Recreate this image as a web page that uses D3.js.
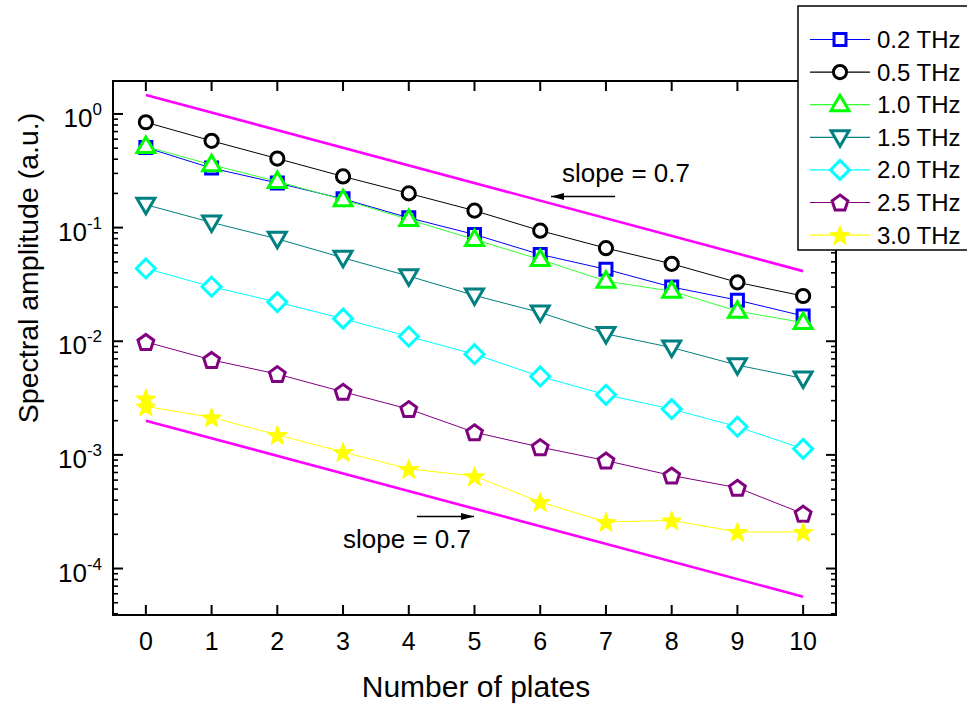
<!DOCTYPE html>
<html><head><meta charset="utf-8">
<script src="https://cdn.jsdelivr.net/npm/d3@7"></script>
<style>body{margin:0;background:#fff} text{font-family:Arial,"Liberation Sans",sans-serif;fill:#000}</style>
</head><body><svg id="c" width="967" height="709"></svg>
<script>
// ---- data ----
const plates = [0,1,2,3,4,5,6,7,8,9,10];
const seriesNames = ["0.2 THz","0.5 THz","1.0 THz","1.5 THz","2.0 THz","2.5 THz","3.0 THz"];
const amp02 = [0.506,0.334,0.247,0.179,0.122,0.087,0.058,0.043,0.030,0.023,0.0167];
const amp05 = [0.845,0.58,0.405,0.282,0.20,0.141,0.094,0.066,0.048,0.033,0.025];
const amp10 = [0.517,0.357,0.255,0.176,0.118,0.0785,0.0524,0.0338,0.0276,0.0184,0.0146];
const amp15 = [0.159,0.111,0.0796,0.0542,0.0374,0.0253,0.0179,0.0116,0.0088,0.00616,0.00471];
const amp20 = [0.0437,0.0302,0.0221,0.0158,0.0110,0.00769,0.0049,0.00338,0.00253,0.00177,0.00113];
const amp25 = [0.00986,0.00685,0.00514,0.00359,0.00253,0.00158,0.00117,0.000891,0.000658,0.000514,0.000304];
const amp30 = [0.00267,0.00214,0.00150,0.00106,0.000753,0.000650,0.000385,0.000257,0.000265,0.000210,0.000210];
const amp30ExtraX = [0];
const amp30ExtraY = [0.00314];
const slopeX = [0,10];
const upperSlope = [1.47,0.0414];
const lowerSlope = [0.002,5.65e-5];
const yTickVals = [1e-4,1e-3,1e-2,1e-1,1];
const yTickExps = ["-4","-3","-2","-1","0"];
const xTickVals = [0,1,2,3,4,5,6,7,8,9,10];
const slopeLabel = "slope = 0.7";

// ---- styles ----
const colors = ["#0000ff","#000000","#00ff00","#008080","#00ffff","#800080","#ffff00"];
const lineColors = ["#0000ff","#000000","#33ff33","#008080","#00ffff","#800080","#ffff00"];
const shapes = ["square","circle","triUp","triDown","diamond","pentagon","star"];
const allSeries = [amp02,amp05,amp10,amp15,amp20,amp25,amp30];

const svg = d3.select("#c");
svg.append("rect").attr("width",967).attr("height",709).attr("fill","#fff");
const L=113,R=836,T=81,B=615;
const x = d3.scaleLinear().domain([-0.5,10.5]).range([L,R]);
const y = d3.scaleLog().domain([3.9e-5,1.95]).range([B,T]);

function shapePath(s){
  if(s==="square") return "M-6,-6H6V6H-6Z";
  if(s==="circle") return d3.symbol(d3.symbolCircle, Math.PI*6.6*6.6)();
  if(s==="triUp") return "M0,-9.5L9,6L-9,6Z";
  if(s==="triDown") return "M0,9L9,-6.5L-9,-6.5Z";
  if(s==="diamond") return "M0,-9.5L9.5,0L0,9.5L-9.5,0Z";
  if(s==="pentagon"){
    const p=d3.range(5).map(i=>{const a=-Math.PI/2+i*2*Math.PI/5;return [8.3*Math.cos(a),8.3*Math.sin(a)+0.8];});
    return "M"+p.map(d=>d.join(",")).join("L")+"Z";
  }
  if(s==="star"){
    const p=d3.range(10).map(i=>{const a=-Math.PI/2+i*Math.PI/5;const r=i%2?4.3:10.5;return [r*Math.cos(a),r*Math.sin(a)+1];});
    return "M"+p.map(d=>d.join(",")).join("L")+"Z";
  }
}
function drawMarker(g,s,c,cx,cy){
  const filled = s==="star";
  g.append("path").attr("d",shapePath(s)).attr("transform",`translate(${cx},${cy})`)
   .attr("fill",filled?c:"#fff").attr("stroke",c).attr("stroke-width",filled?1:3)
   .attr("stroke-linejoin","miter");
}

// slope lines
const slopeLine = d3.line().x((d,i)=>x(slopeX[i])).y(d=>y(d));
[upperSlope,lowerSlope].forEach(arr=>{
  svg.append("path").attr("d",slopeLine(arr)).attr("fill","none").attr("stroke","#ff00ff").attr("stroke-width",2.6);
});

// series
const line = d3.line().x((d,i)=>x(plates[i])).y(d=>y(d));
allSeries.forEach((vals,k)=>{
  const g = svg.append("g");
  let pts = vals.map((v,i)=>[x(plates[i]),y(v)]);
  let linePts = pts;
  if(k===6){ linePts = [[x(amp30ExtraX[0]),y(amp30ExtraY[0])]].concat(pts); }
  g.append("path").attr("d",d3.line()(linePts)).attr("fill","none").attr("stroke",lineColors[k]).attr("stroke-width",1);
  if(k===6) drawMarker(g,shapes[k],colors[k],x(amp30ExtraX[0]),y(amp30ExtraY[0]));
  pts.forEach(p=>drawMarker(g,shapes[k],colors[k],p[0],p[1]));
});

// frame
svg.append("rect").attr("x",L).attr("y",T).attr("width",R-L).attr("height",B-T)
  .attr("fill","none").attr("stroke","#000").attr("stroke-width",2);

// x ticks (bottom & top, inward)
xTickVals.forEach(v=>{
  svg.append("line").attr("x1",x(v)).attr("x2",x(v)).attr("y1",B).attr("y2",B-10).attr("stroke","#000").attr("stroke-width",2);
  svg.append("line").attr("x1",x(v)).attr("x2",x(v)).attr("y1",T).attr("y2",T+10).attr("stroke","#000").attr("stroke-width",2);
  svg.append("text").attr("x",x(v)).attr("y",650).attr("text-anchor","middle").attr("font-size",25).text(v);
});

// y ticks major and minor
const minor=[];
[1e-5,1e-4,1e-3,1e-2,1e-1,1].forEach(d=>{for(let m=2;m<=9;m++){const v=d*m; if(v>=3.9e-5&&v<=1.95) minor.push(v);}});
minor.forEach(v=>{
  svg.append("line").attr("x1",L).attr("x2",L+5).attr("y1",y(v)).attr("y2",y(v)).attr("stroke","#000").attr("stroke-width",1.6);
  svg.append("line").attr("x1",R).attr("x2",R-5).attr("y1",y(v)).attr("y2",y(v)).attr("stroke","#000").attr("stroke-width",1.6);
});
yTickVals.forEach((v,i)=>{
  svg.append("line").attr("x1",L).attr("x2",L+10).attr("y1",y(v)).attr("y2",y(v)).attr("stroke","#000").attr("stroke-width",2);
  svg.append("line").attr("x1",R).attr("x2",R-10).attr("y1",y(v)).attr("y2",y(v)).attr("stroke","#000").attr("stroke-width",2);
  const t = svg.append("text").attr("x",102).attr("y",y(v)+13).attr("text-anchor","end").attr("font-size",26);
  t.append("tspan").text("10");
  t.append("tspan").attr("font-size",17).attr("dy",-12).text(yTickExps[i]);
});

// axis titles
svg.append("text").attr("x",476).attr("y",697).attr("text-anchor","middle").attr("font-size",30).text("Number of plates");
svg.append("text").attr("transform","translate(38,268) rotate(-90)").attr("text-anchor","middle").attr("font-size",28.5).text("Spectral amplitude (a.u.)");

// annotations
function arrow(x1,x2,yy){
  svg.append("line").attr("x1",x1).attr("x2",x2).attr("y1",yy).attr("y2",yy).attr("stroke","#000").attr("stroke-width",1.3);
  const dir = Math.sign(x2-x1);
  svg.append("path").attr("d",`M${x2},${yy}L${x2-dir*13},${yy-3.5}L${x2-dir*13},${yy+3.5}Z`).attr("fill","#000");
}
svg.append("text").attr("x",562).attr("y",182).attr("font-size",26).text(slopeLabel);
arrow(615,551,196.5);
svg.append("text").attr("x",343).attr("y",548).attr("font-size",26).text(slopeLabel);
arrow(417,474,516.5);

// legend
const lg = svg.append("g");
lg.append("rect").attr("x",798).attr("y",6).attr("width",190).attr("height",244).attr("fill","#fff").attr("stroke","#000").attr("stroke-width",1.5);
seriesNames.forEach((n,k)=>{
  const cy = 39.5 + k*32.6;
  lg.append("line").attr("x1",810).attr("x2",870).attr("y1",cy).attr("y2",cy).attr("stroke",lineColors[k]).attr("stroke-width",1.2);
  drawMarker(lg,shapes[k],colors[k],840,cy);
  lg.append("text").attr("x",877).attr("y",cy+8.5).attr("font-size",24).text(n);
});
</script></body></html>
